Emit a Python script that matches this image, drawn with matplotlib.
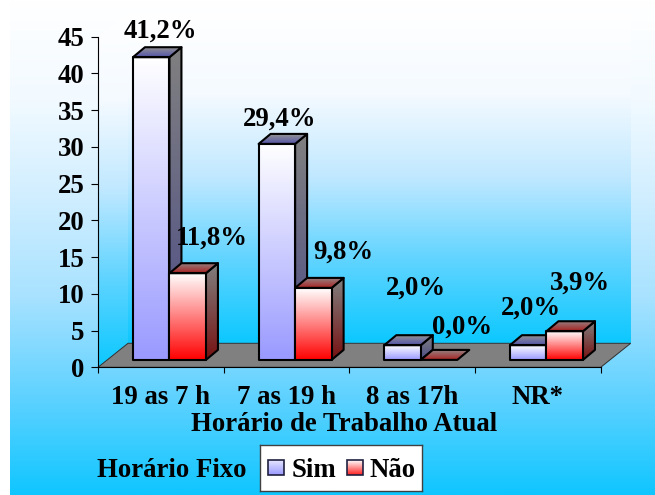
import matplotlib
matplotlib.use('Agg')
import matplotlib.pyplot as plt
from matplotlib.colors import LinearSegmentedColormap
from matplotlib.patches import Polygon, Rectangle
import numpy as np

plt.rcParams['font.family'] = ['Liberation Serif', 'DejaVu Serif']
plt.rcParams['font.weight'] = 'bold'

# Data
categories = ['19 as 7 h', '7 as 19 h', '8 as 17h', 'NR*']
sim = [41.2, 29.4, 2.0, 2.0]
nao = [11.8, 9.8, 0.0, 3.9]
y_ticks = [0, 5, 10, 15, 20, 25, 30, 35, 40, 45]

# Label nudges from the top of each bar, in pixels
sim_nudge = [(9, 20), (3, 18), (13, 51), (3, 31)]
nao_nudge = [(24, 29), (30, 29), (23, 26), (15, 42)]

W, H = 655, 495
LEFT, RIGHT, BOTTOM, TOP = 98, 600.7, 367.3, 36.7
FONT = 19.3

fig = plt.figure(figsize=(W / 100, H / 100), dpi=100)


def fig_box(x0, y0, x1, y1):
    # pixel box (y down) to figure fractions
    return [x0 / W, 1 - y1 / H, (x1 - x0) / W, (y1 - y0) / H]


def ramp(*colors):
    return LinearSegmentedColormap.from_list('r', colors)


grad = np.linspace(0, 1, 256).reshape(-1, 1)

# Page background, with a white strip down the left edge
bg = fig.add_axes(fig_box(10, 0, W, H), zorder=0)
bg.imshow(grad, cmap=ramp('#ffffff', '#f2faff', '#d0eeff', '#a8e2ff', '#60d2ff', '#10c6ff'),
          aspect='auto', extent=[0, 1, 0, 1])
bg.axis('off')

ax = fig.add_axes(fig_box(LEFT, TOP, RIGHT, BOTTOM), zorder=1)
ax.set_xlim(0, 4)
ax.set_ylim(0, 45)
ax.set_autoscale_on(False)
ax.patch.set_visible(False)

px_x = 4 / (RIGHT - LEFT)
px_y = 45 / (BOTTOM - TOP)


def shade(verts, cmap, z, edge='black', lw=1.5):
    # polygon filled with a vertical gradient, may reach past the axes
    verts = np.array(verts)
    poly = Polygon(verts, closed=True, facecolor='none', edgecolor=edge, linewidth=lw,
                   zorder=z + 0.5, clip_on=False, joinstyle='round')
    ax.add_patch(poly)
    ext = [verts[:, 0].min(), verts[:, 0].max(), verts[:, 1].min(), verts[:, 1].max()]
    im = ax.imshow(grad, cmap=cmap, aspect='auto', extent=ext, zorder=z, interpolation='bilinear')
    im.set_clip_box(fig.bbox)
    im.set_clip_path(poly)


# Walls and floor of the 3D box
wall_dx = 30 * px_x
wall_dy = 24 * px_y
wall_cmap = ramp('#ffffff', '#f4faff', '#c0e8ff', '#60d4ff', '#0cc8ff')
shade([(wall_dx, wall_dy), (4 + wall_dx, wall_dy), (4 + wall_dx, 45 + wall_dy), (wall_dx, 45 + wall_dy)],
      wall_cmap, 1, edge='none', lw=0)
shade([(0, 0), (wall_dx, wall_dy), (wall_dx, 45 + wall_dy), (0, 45)], wall_cmap, 1, edge='none', lw=0)
ax.add_patch(Polygon([(0, 0), (wall_dx, wall_dy), (4 + wall_dx, wall_dy), (4, 0)], closed=True,
                     facecolor='#808080', edgecolor='#303030', linewidth=0.7, zorder=2, clip_on=False))

# Bars
bar_w = 36.5 * px_x
depth_x = 12 * px_x
depth_y = 10 * px_y
base_x = 8.6 * px_x
base_y = 7.4 * px_y

sim_face = ramp('#ffffff', '#9999ff')
sim_side = ramp('#808080', '#4c4c88')
sim_top = ramp('#949494', '#5555aa')
nao_face = ramp('#ffffff', '#ff0000')
nao_side = ramp('#808080', '#771010')
nao_top = ramp('#948080', '#aa2222')


def draw_bar(x0, value, face, side, top, z):
    y0 = base_y
    y1 = base_y + value
    x1 = x0 + bar_w
    if value > 0:
        shade([(x1, y0), (x1 + depth_x, y0 + depth_y), (x1 + depth_x, y1 + depth_y), (x1, y1)], side, z)
        shade([(x0, y0), (x1, y0), (x1, y1), (x0, y1)], face, z + 1)
    shade([(x0, y1), (x1, y1), (x1 + depth_x, y1 + depth_y), (x0 + depth_x, y1 + depth_y)], top, z + 1)


for i in range(len(categories)):
    mid = i + 0.5 + base_x
    draw_bar(mid - bar_w, sim[i], sim_face, sim_side, sim_top, 3 + i * 4)
    draw_bar(mid, nao[i], nao_face, nao_side, nao_top, 5 + i * 4)

    # Value labels
    for value, nudge, x_off in ((sim[i], sim_nudge[i], -bar_w / 2), (nao[i], nao_nudge[i], bar_w / 2)):
        ax.annotate(f'{value:.1f}%'.replace('.', ','), xy=(mid + x_off, base_y + value),
                    xytext=(nudge[0] * 0.72, nudge[1] * 0.72), textcoords='offset points',
                    ha='center', va='baseline', fontsize=FONT, zorder=40, annotation_clip=False)

# Axes lines and ticks
for side in ('top', 'right'):
    ax.spines[side].set_visible(False)
for side in ('left', 'bottom'):
    ax.spines[side].set_linewidth(0.8)
    ax.spines[side].set_zorder(30)
ax.set_yticks(y_ticks)
ax.tick_params(axis='y', length=4.8, width=0.8, labelsize=FONT, pad=5)
ax.set_xticks(range(5))
ax.set_xticklabels([])
ax.set_xticks(np.arange(4) + 0.5, categories, minor=True)
ax.tick_params(axis='x', which='major', length=4.5, width=0.8)
ax.tick_params(axis='x', which='minor', length=0, labelsize=FONT, pad=13)
ax.set_xlabel('Horário de Trabalho Atual', fontsize=FONT, fontweight='bold', labelpad=1,
              x=(344 - LEFT) / (RIGHT - LEFT))

# Legend
fig.text(97 / W, 1 - 477 / H, 'Horário Fixo', fontsize=FONT, va='baseline', zorder=5)
box = fig.add_axes(fig_box(259.5, 445, 422, 491), zorder=3)
box.set_xlim(259.5, 422)
box.set_ylim(491, 445)
box.set_autoscale_on(False)
box.set_xticks([])
box.set_yticks([])
for s in box.spines.values():
    s.set_color('#404040')
    s.set_linewidth(1)
for x0, cmap, label, tx in ((268, ramp('#e6e6ff', '#9999ff'), 'Sim', 291.5),
                            (346.5, ramp('#ffffff', '#ff2020'), 'Não', 370)):
    box.imshow(grad, cmap=cmap, aspect='auto', extent=[x0, x0 + 16, 475, 460], origin='upper')
    box.add_patch(Rectangle((x0, 460), 16, 15, fill=False, edgecolor='#202040', linewidth=1.2))
    box.text(tx, 476.7, label, fontsize=FONT, va='baseline')

fig.savefig('out.png', dpi=100)
